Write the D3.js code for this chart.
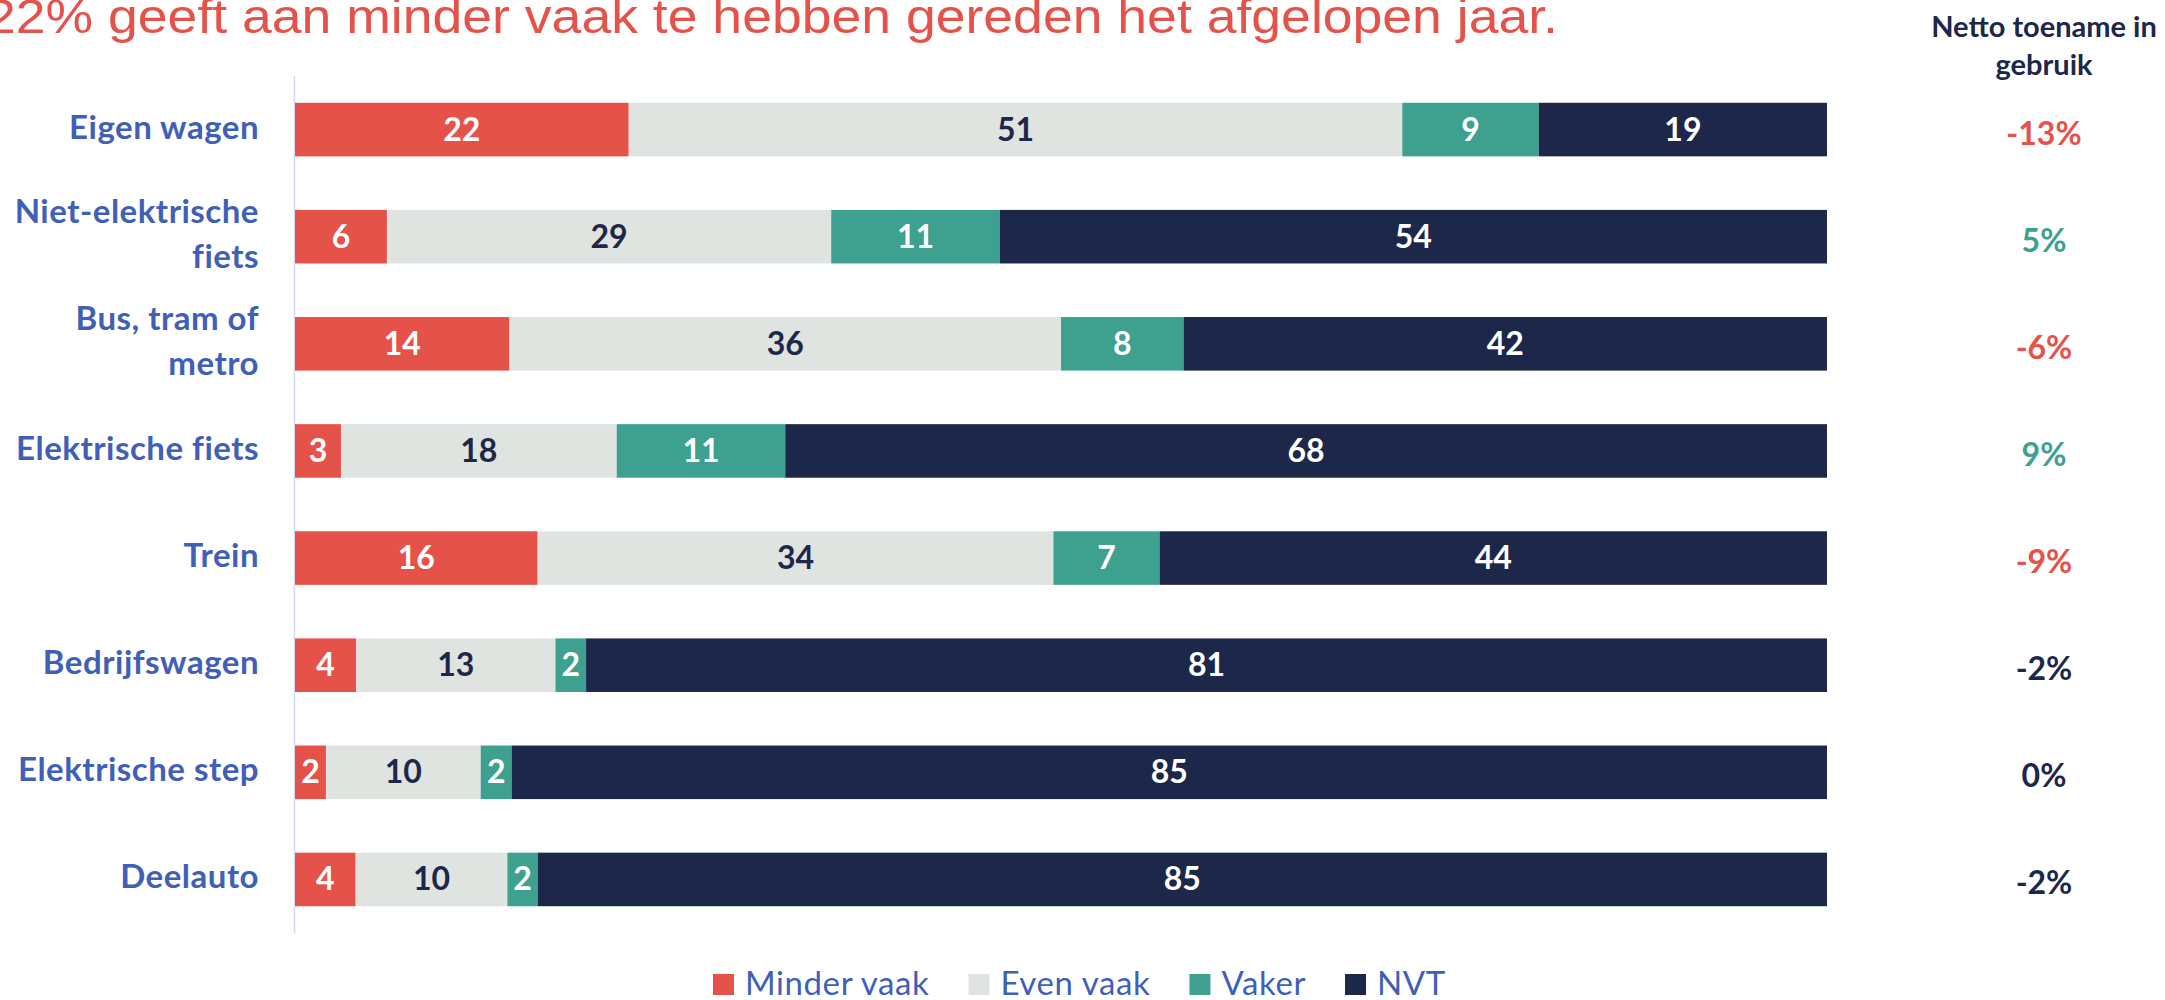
<!DOCTYPE html>
<html>
<head>
<meta charset="utf-8">
<script src="https://cdn.jsdelivr.net/npm/d3@7"></script>
<style>
    body { margin: 0; background: #fff; }
    svg { display: block; }
</style>
</head>
<body>
<div id="chart"></div>
<script>
// data
const categories = ['Eigen wagen', 'Niet-elektrische\nfiets', 'Bus, tram of\nmetro', 'Elektrische fiets', 'Trein', 'Bedrijfswagen', 'Elektrische step', 'Deelauto']
const seriesNames = ['Minder vaak', 'Even vaak', 'Vaker', 'NVT']
const minderVaak = [22, 6, 14, 3, 16, 4, 2, 4]
const evenVaak = [51, 29, 36, 18, 34, 13, 10, 10]
const vaker = [9, 11, 8, 11, 7, 2, 2, 2]
const nvt = [19, 54, 42, 68, 44, 81, 85, 85]
const nettoToename = [-13, 5, -6, 9, -9, -2, 0, -2]

const titleText = '22% geeft aan minder vaak te hebben gereden het afgelopen jaar.'
const headerLines = ['Netto toename in', 'gebruik']

const colors = ['#E4524A', '#DFE4E1', '#3EA08F', '#1C2749']
const labelColors = ['#fff', '#1C2749', '#fff', '#fff']
const blue = '#4060B8'
const navy = '#1C2749'

var width = 2165
var height = 1000

var svg = d3.select('#chart').append('svg')
    .attr('width', width)
    .attr('height', height)

// build rows for the stack
var rows = categories.map((c, i) => ({
    cat: c,
    'Minder vaak': minderVaak[i],
    'Even vaak': evenVaak[i],
    'Vaker': vaker[i],
    'NVT': nvt[i]
}))

var stack = d3.stack().keys(seriesNames).offset(d3.stackOffsetExpand)
var stacked = stack(rows)

var x = d3.scaleLinear().domain([0, 1]).range([295, 1827])
var y = d3.scaleBand()
    .domain(categories)
    .range([76, 933])
    .paddingInner(0.5)
    .paddingOuter(0.25)

// title (cut off at the top-left like the original)
svg.append('text')
    .attr('x', -14)
    .attr('y', 33)
    .attr('textLength', 1572)
    .attr('lengthAdjust', 'spacingAndGlyphs')
    .style('font-family', '"Liberation Sans", Arial, sans-serif')
    .style('font-size', '48px')
    .attr('fill', '#E4524A')
    .text(titleText)

// vertical axis line
svg.append('line')
    .attr('x1', 294.5).attr('x2', 294.5)
    .attr('y1', y.range()[0]).attr('y2', y.range()[1])
    .attr('stroke', '#D3DBEE')
    .attr('stroke-width', 1.5)

// bars
var groups = svg.selectAll('g.series')
    .data(stacked)
    .enter().append('g')
    .attr('class', 'series')
    .attr('fill', (d, i) => colors[i])

groups.selectAll('rect')
    .data(d => d)
    .enter().append('rect')
    .attr('x', d => x(d[0]))
    .attr('y', d => y(d.data.cat))
    .attr('width', d => x(d[1]) - x(d[0]))
    .attr('height', y.bandwidth())

// value labels inside the segments
groups.each(function(s, si) {
    d3.select(this).selectAll('text')
        .data(s)
        .enter().append('text')
        .attr('x', d => (x(d[0]) + x(d[1])) / 2)
        .attr('y', d => y(d.data.cat) + y.bandwidth() / 2 + 11)
        .attr('text-anchor', 'middle')
        .attr('fill', labelColors[si])
        .style('font-family', 'Lato, sans-serif')
        .style('font-weight', 700)
        .style('font-size', '32px')
        .text(d => d.data[s.key])
})

// category labels
categories.forEach(c => {
    var lines = c.split('\n')
    var cy = y(c) + y.bandwidth() / 2 + 9
    var t = svg.append('text')
        .attr('text-anchor', 'end')
        .attr('fill', blue)
        .style('font-family', 'Lato, sans-serif')
        .style('font-weight', 700)
        .style('font-size', '33px')
        .style('letter-spacing', '0.5px')
    lines.forEach((l, li) => {
        t.append('tspan')
            .attr('x', 259)
            .attr('y', cy + (li - (lines.length - 1) / 2) * 45)
            .text(l)
    })
})

// right column header
headerLines.forEach((l, i) => {
    svg.append('text')
        .attr('x', 2044)
        .attr('y', 37 + i * 38)
        .attr('text-anchor', 'middle')
        .attr('fill', navy)
        .style('font-family', 'Lato, sans-serif')
        .style('font-weight', 700)
        .style('font-size', '29px')
        .text(l)
})

// netto values
function netColor(v) {
    if (v <= -5) return colors[0]
    if (v >= 5) return colors[2]
    return navy
}

svg.selectAll('text.netto')
    .data(nettoToename)
    .enter().append('text')
    .attr('class', 'netto')
    .attr('x', 2044)
    .attr('y', (d, i) => y(categories[i]) + y.bandwidth() / 2 + 15)
    .attr('text-anchor', 'middle')
    .attr('fill', d => netColor(d))
    .style('font-family', 'Lato, sans-serif')
    .style('font-weight', 700)
    .style('font-size', '32px')
    .text(d => d + '%')

// legend
var legend = svg.append('g').attr('class', 'legend')
var lx = 713
seriesNames.forEach((name, i) => {
    legend.append('rect')
        .attr('x', lx)
        .attr('y', 974)
        .attr('width', 21)
        .attr('height', 21)
        .attr('fill', colors[i])
    var txt = legend.append('text')
        .attr('x', lx + 32)
        .attr('y', 995)
        .attr('fill', blue)
        .style('font-family', 'Lato, sans-serif')
        .style('font-size', '33px')
        .style('letter-spacing', '0.6px')
        .text(name)
    lx = lx + 32 + txt.node().getComputedTextLength() + 39
})
</script>
</body>
</html>
